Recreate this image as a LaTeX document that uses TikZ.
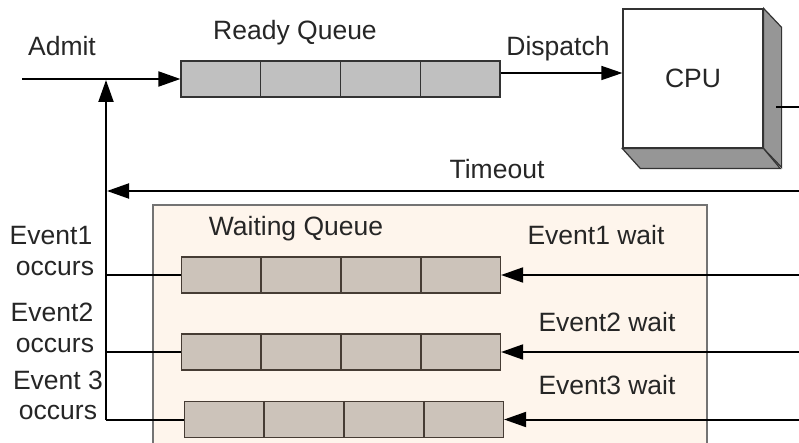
\documentclass[tikz,border=0pt]{standalone}
\usepackage{fontspec}
\setmainfont{Liberation Sans}
\usetikzlibrary{arrows.meta,calc}

\definecolor{QueueCell}{RGB}{192,192,192}
\definecolor{WaitCell}{RGB}{204,195,186}
\definecolor{WaitEdge}{RGB}{70,60,52}
\definecolor{WaitFill}{RGB}{254,245,236}
\definecolor{BoxEdge}{RGB}{115,115,115}
\definecolor{CPUSide}{RGB}{150,150,150}

\tikzset{
  queue/.style={draw=black!80, fill=QueueCell, line width=1.2pt,
    minimum width=319pt, minimum height=36pt, inner sep=0pt},
  wqueue/.style={queue, draw=WaitEdge, fill=WaitCell},
  txt/.style={font=\fontsize{26.5}{30}\selectfont, text=black!85, inner sep=0pt},
  wire/.style={line width=2pt, black},
  flow/.style={wire, -{Triangle[length=22pt,width=15pt]}},
  thinflow/.style={line width=1.5pt, black, -{Triangle[length=21pt,width=14pt]}},
}

\begin{document}
\begin{tikzpicture}[x=1pt, y=-1pt]

\useasboundingbox[fill=white] (0,0) rectangle (799,443);

% Waiting area
\draw[line width=1.2pt, draw=BoxEdge, fill=WaitFill] (153,205) rectangle (707,460);

% CPU block
\node[draw=black!80, fill=white, line width=1.2pt, minimum width=140pt,
  minimum height=139pt, inner sep=0pt] (cpu) at (693,78.5) {};
\draw[line width=1.2pt, draw=black!80, fill=CPUSide]
  (cpu.north east) -- ++(18,19) -- ++(0,140) -- (cpu.south east) -- cycle;
\draw[line width=1.2pt, draw=black!80, fill=CPUSide]
  (cpu.south west) -- ++(18,20) -- ++(140,0) -- (cpu.south east) -- cycle;
\node[txt] (cpulbl) at (cpu.center) {CPU};

% Queues
\node[queue]  (rq)  at (340.5,79)  {};
\node[wqueue] (wq1) at (341,275)   {};
\node[wqueue] (wq2) at (341,352)   {};
\node[wqueue] (wq3) at (344,419.5) {};

\foreach \i in {1,2,3}
{
     \draw[line width=1.2pt, black!80]
       ($(rq.north west)!\i/4!(rq.north east)$) -- ($(rq.south west)!\i/4!(rq.south east)$);
}
\foreach \q in {wq1,wq2,wq3}
  \foreach \i in {1,2,3}
  {
     \draw[line width=1.2pt, WaitEdge]
       ($(\q.north west)!\i/4!(\q.north east)$) -- ($(\q.south west)!\i/4!(\q.south east)$);
  }

% Coordinates for free ends
\coordinate (admitin) at (22,79);
\coordinate (vbot)    at (106,420);
\coordinate (vtop)    at (106,80);
\coordinate (tin)     at (800,191);
\coordinate (tout)    at (107,191);
\coordinate (cpuexit) at (776,107);
\coordinate (cpuedge) at (800,107);
\coordinate (e1in)    at (800,275);
\coordinate (e2in)    at (800,352);
\coordinate (e3in)    at (800,419.5);

% Connectors
\draw[flow] (admitin) -- (rq.west);
\draw[flow] (vbot) -- (vtop);
\draw[thinflow] ([yshift=6pt]rq.east) -- ([yshift=6pt]rq.east -| cpu.west);
\draw[wire] (cpuexit) -- (cpuedge);
\draw[flow] (tin) -- (tout);

\foreach \q in {wq1,wq2,wq3}
{
     \draw[wire] (\q.west -| vbot) -- (\q.west);
}
\draw[flow] (e1in) -- (wq1.east);
\draw[flow] (e2in) -- (wq2.east);
\draw[flow] (e3in) -- (wq3.east);

% Labels
\node[txt] (admit)    at (62,46)   {Admit};
\node[txt] (rqlbl)    at (295,33)  {Ready Queue};
\node[txt] (dispatch) at (558,49)  {Dispatch};
\node[txt] (timeout)  at (497,169) {Timeout};
\node[txt] (wqlbl)    at (296,229) {Waiting Queue};

\node[txt] (w1) at (596,235) {Event1 wait};
\node[txt] (w2) at (607,322) {Event2 wait};
\node[txt] (w3) at (607,385) {Event3 wait};

\node[txt] (e1a) at (51,236) {Event1};
\node[txt] (e1b) at (55,268) {occurs};
\node[txt] (e2a) at (52,312) {Event2};
\node[txt] (e2b) at (55,345) {occurs};
\node[txt] (e3a) at (58,380) {Event 3};
\node[txt] (e3b) at (58,412) {occurs};

\end{tikzpicture}
\end{document}
